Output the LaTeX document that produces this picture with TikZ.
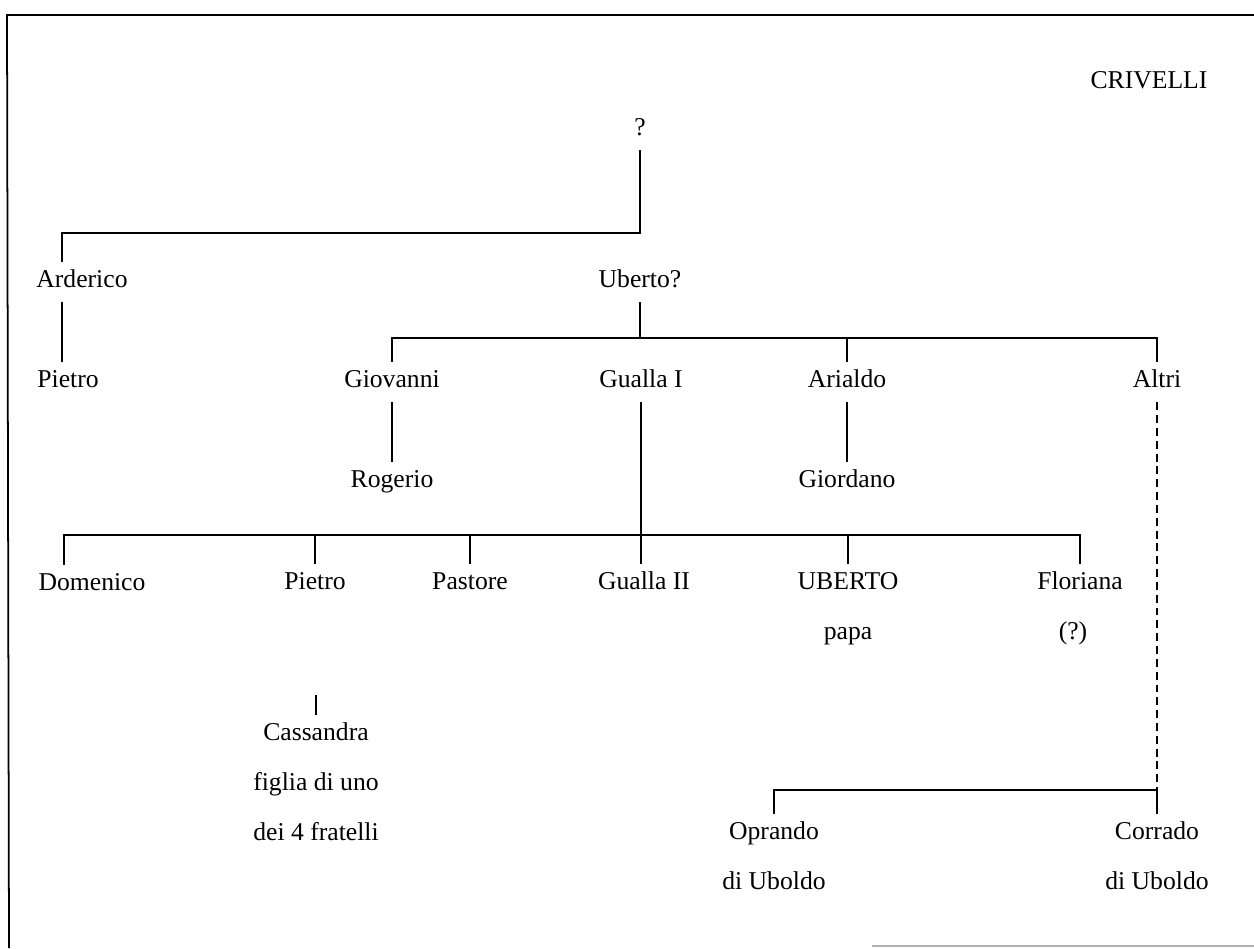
\documentclass[tikz,border=0pt]{standalone}
\usepackage{fontspec}
\setmainfont{Liberation Serif}
\usepackage{tikz}
\usetikzlibrary{calc}
\tikzstyle{pers} = [inner sep=0pt, minimum height=0.8cm, text height=9.5pt, text depth=3pt, font=\fontsize{14.6}{16}\selectfont]
\tikzstyle{line} = [line width=0.8pt]
\tikzstyle{dline} = [line width=0.8pt, dash pattern=on 4.5pt off 2.8pt]
\tikzstyle{frame} = [line width=1pt]

\begin{document}
\begin{tikzpicture}[x=0.02cm, y=-0.02cm, node distance=1cm]
\useasboundingbox (0,0) rectangle (1254,948);
\draw [frame] (1254,15) -- (7,15) -- (9,948);
\draw [line, gray!60] (872,946) -- (1254,946);
\node (title) [pers] at (1149,83) {CRIVELLI};
\node (q) [pers] at (640,130) {?};
\node (arderico) [pers] at (82,282) {Arderico};
\node (uberto) [pers] at (640,282) {Uberto?};
\node (pietroA) [pers] at (68,382) {Pietro};
\node (giovanni) [pers] at (392,382) {Giovanni};
\node (gualla1) [pers] at (641,382) {Gualla I};
\node (arialdo) [pers] at (847,382) {Arialdo};
\node (altri) [pers] at (1157,382) {Altri};
\node (rogerio) [pers] at (392,482) {Rogerio};
\node (giordano) [pers] at (847,482) {Giordano};
\node (domenico) [pers] at (92,585) {Domenico};
\node (pietroB) [pers] at (315,584) {Pietro};
\node (pastore) [pers] at (470,584) {Pastore};
\node (gualla2) [pers] at (644,584) {Gualla II};
\node (ubertoP) [pers] at (848,584) {UBERTO};
\node (papa) [pers, below of=ubertoP] {papa};
\node (floriana) [pers] at (1080,584) {Floriana};
\node (dubbio) [pers, below of=floriana, xshift=-4pt] {(?)};
\node (cassandra) [pers] at (316,735) {Cassandra};
\node (figlia) [pers, below of=cassandra] {figlia di uno};
\node (fratelli) [pers, below of=figlia] {dei 4 fratelli};
\node (oprando) [pers] at (774,834) {Oprando};
\node (oprandoB) [pers, below of=oprando] {di Uboldo};
\node (corrado) [pers] at (1157,834) {Corrado};
\node (corradoB) [pers, below of=corrado] {di Uboldo};
\coordinate (b1) at (62,233);
\coordinate (b2) at (0,338);
\coordinate (b3) at (64,535);
\coordinate (b4) at (0,790);
\coordinate (stub) at (316,695);
\draw [line] (q.south) |- (b1) -- (b1 |- arderico.north);
\draw [line] (b1 |- arderico.south) -- (b1 |- pietroA.north);
\draw [line] (uberto.south) -- (uberto.south |- b2);
\draw [line] (giovanni.north) |- (altri.north |- b2) -- (altri.north);
\draw [line] (arialdo.north) -- (arialdo.north |- b2);
\draw [line] (giovanni) -- (rogerio);
\draw [line] (arialdo) -- (giordano);
\draw [line] (gualla1.south) -- (gualla1.south |- gualla2.north);
\draw [line] (b3 |- domenico.north) |- (floriana.north |- b3) -- (floriana.north);
\draw [line] (pietroB.north) -- (pietroB.north |- b3);
\draw [line] (pastore.north) -- (pastore.north |- b3);
\draw [line] (ubertoP.north) -- (ubertoP.north |- b3);
\draw [line] (stub) -- (cassandra.north);
\draw [dline] (altri.south) -- (altri.south |- b4);
\draw [line] (oprando.north) |- (corrado.north |- b4) -- (corrado.north);
\end{tikzpicture}
\end{document}
